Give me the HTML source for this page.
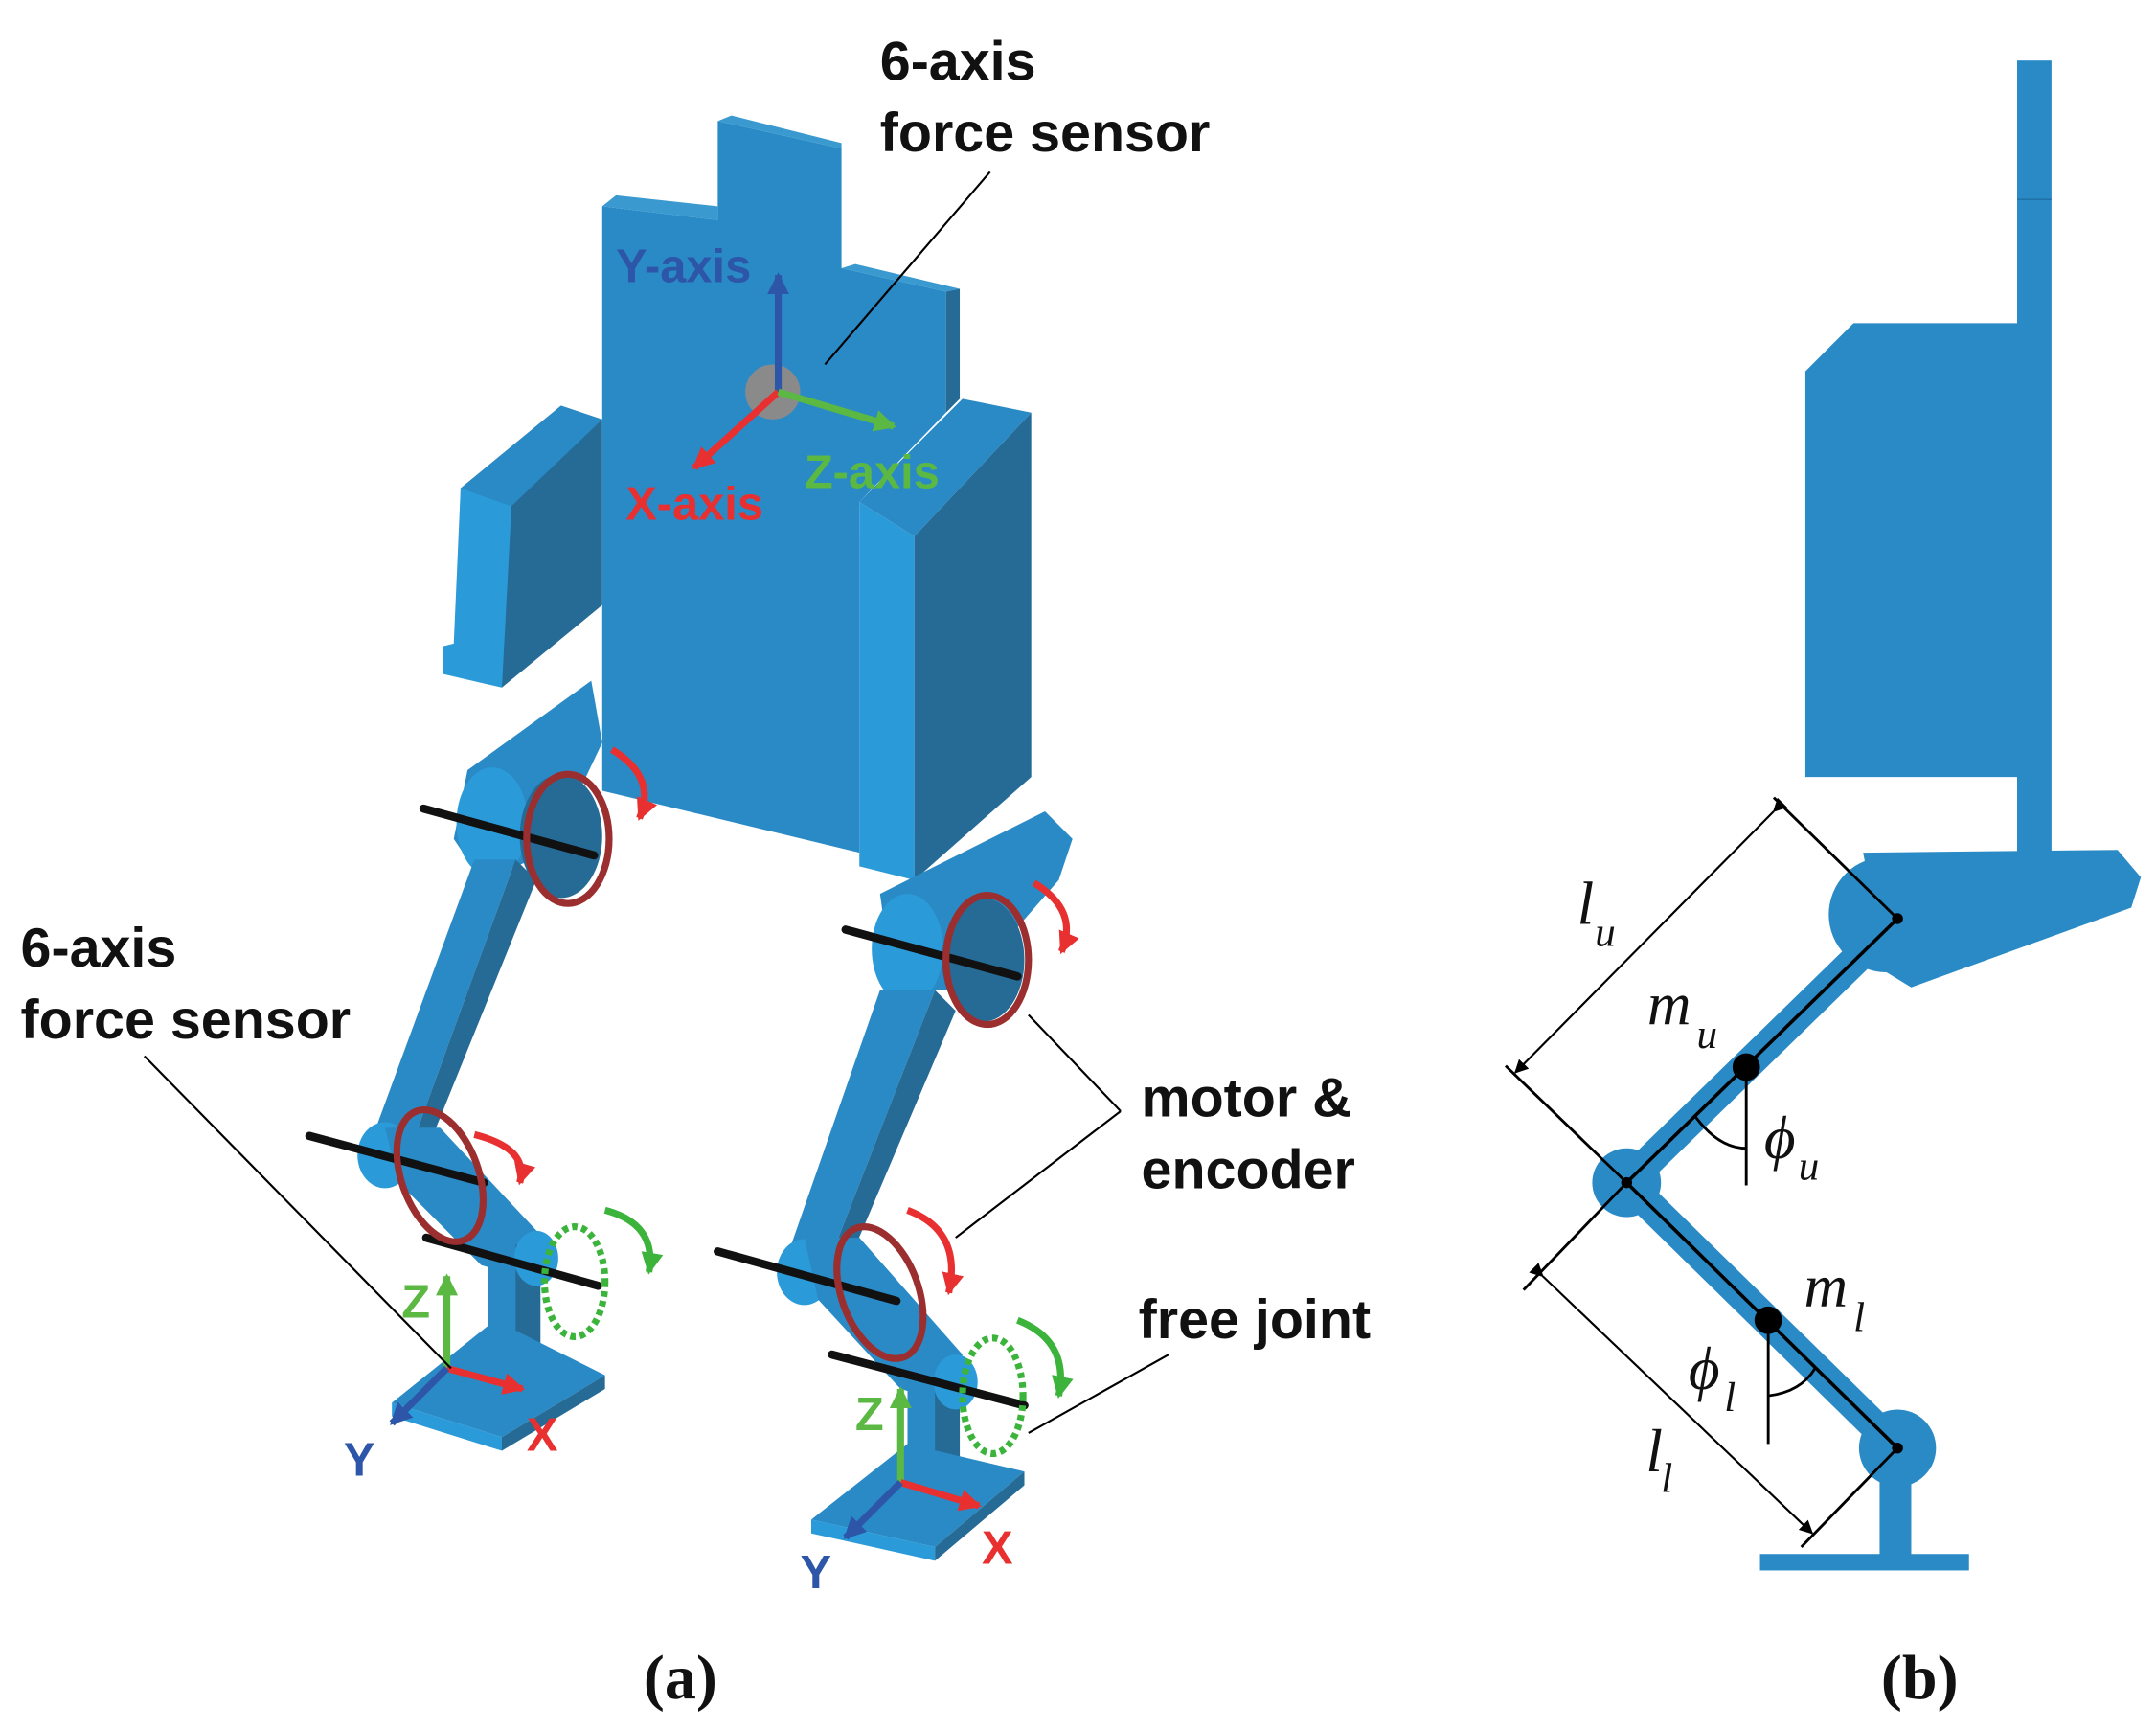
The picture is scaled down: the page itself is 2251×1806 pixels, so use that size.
<!DOCTYPE html>
<html><head><meta charset="utf-8"><style>
html,body{margin:0;padding:0;background:#fff;}
svg{display:block;}
.s{font-family:"Liberation Sans",sans-serif;font-weight:bold;}
.m{font-family:"Liberation Serif",serif;font-style:italic;}
</style></head><body>
<svg width="2251" height="1806" viewBox="0 0 1568 1258" xmlns="http://www.w3.org/2000/svg">
<defs>
<marker id="ah" markerWidth="10" markerHeight="10" refX="9" refY="5" orient="auto" markerUnits="userSpaceOnUse"><path d="M0,0 L10,5 L0,10 z" fill="#000"/></marker>
<marker id="ab" markerWidth="16" markerHeight="16" refX="14" refY="8" orient="auto" markerUnits="userSpaceOnUse"><path d="M0,0 L16,8 L0,16 z" fill="context-stroke"/></marker>
</defs>
<polygon points="335,355 408,295 438,305 438,440 365,500 335,490" fill="#266a96"/>
<polygon points="335,355 408,295 438,305 372,368" fill="#2a8ac6"/>
<polygon points="335,355 372,368 365,500 322,490 322,470 330,468" fill="#2a9ad8"/>
<polygon points="438,150 522,160 522,88 612,108 612,195 688,212 688,300 625,365 625,620 438,575" fill="#2a8ac6"/>
<polygon points="438,150 522,160 522,150 448,142" fill="#3a9ad0"/>
<polygon points="522,88 532,84 612,104 612,108" fill="#3a9ad0"/>
<polygon points="612,195 622,192 698,210 688,212" fill="#3a9ad0"/>
<polygon points="688,212 698,210 698,290 688,300" fill="#266a96"/>
<polygon points="665,390 750,300 750,565 665,640" fill="#266a96"/>
<polygon points="625,365 700,290 750,300 665,390" fill="#2a8ac6"/>
<polygon points="625,365 665,390 665,640 625,630" fill="#2a9ad8"/>
<circle cx="562" cy="285" r="20" fill="#8a8a8a"/>
<polygon points="340,560 430,495 438,540 400,620 350,640 330,610" fill="#2a8ac6"/>
<ellipse cx="358" cy="598" rx="26" ry="40" fill="#2a9ad8"/>
<ellipse cx="408" cy="608" rx="30" ry="45" fill="#266a96"/>
<polygon points="345,625 375,625 295,845 268,835" fill="#2a8ac6"/>
<polygon points="375,625 390,640 305,850 295,845" fill="#266a96"/>
<ellipse cx="280" cy="840" rx="20" ry="24" fill="#2a9ad8"/>
<polygon points="280,820 320,820 395,900 385,930 350,920 290,860" fill="#2a8ac6"/>
<rect x="355" y="905" width="38" height="85" fill="#2a8ac6"/>
<rect x="375" y="905" width="18" height="85" fill="#266a96"/>
<ellipse cx="390" cy="915" rx="16" ry="20" fill="#2a9ad8"/>
<polygon points="285,1020 360,960 440,1000 365,1045" fill="#2a8ac6"/>
<polygon points="285,1020 365,1045 365,1055 285,1030" fill="#2a9ad8"/>
<polygon points="365,1045 440,1000 440,1010 365,1055" fill="#266a96"/>
<polygon points="640,650 760,590 780,610 770,640 700,720 650,720" fill="#2a8ac6"/>
<ellipse cx="660" cy="690" rx="26" ry="40" fill="#2a9ad8"/>
<ellipse cx="715" cy="698" rx="30" ry="45" fill="#266a96"/>
<polygon points="640,720 680,720 600,925 572,915" fill="#2a8ac6"/>
<polygon points="680,720 695,735 612,930 600,925" fill="#266a96"/>
<ellipse cx="585" cy="925" rx="20" ry="24" fill="#2a9ad8"/>
<polygon points="585,900 625,900 700,985 690,1020 655,1010 595,945" fill="#2a8ac6"/>
<rect x="660" y="1000" width="38" height="85" fill="#2a8ac6"/>
<rect x="680" y="1000" width="18" height="85" fill="#266a96"/>
<ellipse cx="695" cy="1005" rx="16" ry="20" fill="#2a9ad8"/>
<polygon points="590,1105 660,1050 745,1070 680,1125" fill="#2a8ac6"/>
<polygon points="590,1105 680,1125 680,1135 590,1115" fill="#2a9ad8"/>
<polygon points="680,1125 745,1070 745,1080 680,1135" fill="#266a96"/>
<g stroke="#111" stroke-width="6" stroke-linecap="round">
<line x1="308" y1="588" x2="432" y2="622"/>
<line x1="615" y1="676" x2="740" y2="710"/>
<line x1="225" y1="826" x2="352" y2="860"/>
<line x1="310" y1="900" x2="435" y2="935"/>
<line x1="522" y1="910" x2="652" y2="946"/>
<line x1="605" y1="985" x2="745" y2="1022"/>
</g>
<g fill="none" stroke="#9b2f2f" stroke-width="5">
<ellipse cx="413" cy="610" rx="30" ry="47"/>
<ellipse cx="718" cy="698" rx="30" ry="47"/>
<ellipse cx="320" cy="855" rx="28" ry="50" transform="rotate(-20 320 855)"/>
<ellipse cx="640" cy="940" rx="28" ry="50" transform="rotate(-20 640 940)"/>
</g>
<g fill="none" stroke="#3cb43c" stroke-width="5" stroke-dasharray="4,3">
<ellipse cx="418" cy="932" rx="22" ry="40"/>
<ellipse cx="722" cy="1015" rx="22" ry="42"/>
</g>
<g fill="none" stroke-width="5">
<path d="M445,545 Q478,565 465,595" stroke="#e83030" marker-end="url(#ab)"/>
<path d="M752,642 Q785,662 772,692" stroke="#e83030" marker-end="url(#ab)"/>
<path d="M345,825 Q385,835 378,860" stroke="#e83030" marker-end="url(#ab)"/>
<path d="M660,880 Q700,895 690,940" stroke="#e83030" marker-end="url(#ab)"/>
<path d="M440,880 Q478,890 472,925" stroke="#3cb43c" marker-end="url(#ab)"/>
<path d="M740,960 Q778,975 770,1015" stroke="#3cb43c" marker-end="url(#ab)"/>
</g>
<g stroke-width="5" fill="none">
<line x1="566" y1="285" x2="566" y2="200" stroke="#2d55a8" marker-end="url(#ab)"/>
<line x1="566" y1="285" x2="505" y2="340" stroke="#e83030" marker-end="url(#ab)"/>
<line x1="566" y1="285" x2="650" y2="310" stroke="#5ab843" marker-end="url(#ab)"/>
<line x1="325" y1="995" x2="325" y2="928" stroke="#5ab843" marker-end="url(#ab)"/>
<line x1="325" y1="995" x2="380" y2="1010" stroke="#e83030" marker-end="url(#ab)"/>
<line x1="325" y1="995" x2="285" y2="1035" stroke="#2d55a8" marker-end="url(#ab)"/>
<line x1="655" y1="1078" x2="655" y2="1010" stroke="#5ab843" marker-end="url(#ab)"/>
<line x1="655" y1="1078" x2="712" y2="1095" stroke="#e83030" marker-end="url(#ab)"/>
<line x1="655" y1="1078" x2="615" y2="1118" stroke="#2d55a8" marker-end="url(#ab)"/>
</g>
<g stroke="#000" stroke-width="1.5">
<line x1="600" y1="265" x2="720" y2="125"/>
<line x1="105" y1="768" x2="328" y2="995"/>
<line x1="748" y1="738" x2="815" y2="808"/>
<line x1="695" y1="900" x2="815" y2="808"/>
<line x1="748" y1="1042" x2="850" y2="985"/>
</g>
<g class="s" font-size="40" fill="#111">
<text x="640" y="58">6-axis</text>
<text x="640" y="110">force sensor</text>
<text x="15" y="703">6-axis</text>
<text x="15" y="755">force sensor</text>
<text x="830" y="812">motor &amp;</text>
<text x="830" y="864">encoder</text>
<text x="828" y="973">free joint</text>
</g>
<g class="s" font-size="34">
<text x="448" y="205" fill="#2d55a8">Y-axis</text>
<text x="455" y="378" fill="#e83030">X-axis</text>
<text x="585" y="355" fill="#5ab843">Z-axis</text>
<text x="292" y="958" fill="#5ab843">Z</text>
<text x="383" y="1055" fill="#e83030">X</text>
<text x="250" y="1073" fill="#2d55a8">Y</text>
<text x="622" y="1040" fill="#5ab843">Z</text>
<text x="714" y="1137" fill="#e83030">X</text>
<text x="582" y="1155" fill="#2d55a8">Y</text>
</g>
<text x="468" y="1235" font-family="Liberation Serif,serif" font-weight="bold" font-size="46" fill="#111">(a)</text>
<rect x="1467" y="44" width="25" height="576" fill="#2a8ac6"/>
<line x1="1467" y1="145" x2="1492" y2="145" stroke="#1f6fa3" stroke-width="1"/>
<polygon points="1348,235 1470,235 1470,565 1313,565 1313,270" fill="#2a8ac6"/>
<circle cx="1372" cy="665" r="42" fill="#2a8ac6"/>
<polygon points="1355,620 1540,618 1557,638 1550,660 1390,718 1372,707" fill="#2a8ac6"/>
<g stroke="#2a8ac6" stroke-width="22" stroke-linecap="round">
<line x1="1380" y1="668" x2="1183" y2="860"/>
<line x1="1183" y1="860" x2="1380" y2="1053"/>
</g>
<circle cx="1183" cy="860" r="25" fill="#2a8ac6"/>
<circle cx="1380" cy="1053" r="28" fill="#2a8ac6"/>
<rect x="1367" y="1055" width="23" height="77" fill="#2a8ac6"/>
<rect x="1280" y="1130" width="152" height="12" fill="#2a8ac6"/>
<g stroke="#000" stroke-width="2.5">
<line x1="1380" y1="668" x2="1183" y2="860"/>
<line x1="1183" y1="860" x2="1380" y2="1053"/>
</g>
<g fill="#000">
<circle cx="1380" cy="668" r="4"/><circle cx="1183" cy="860" r="4"/><circle cx="1380" cy="1053" r="4"/>
<circle cx="1270" cy="776" r="10"/><circle cx="1286" cy="960" r="10"/>
</g>
<g stroke="#000" stroke-width="2" fill="none">
<line x1="1270" y1="776" x2="1270" y2="862"/>
<line x1="1286" y1="960" x2="1286" y2="1050"/>
<path d="M1233,812 Q1250,835 1270,835"/>
<path d="M1286,1015 Q1310,1012 1320,995"/>
<line x1="1380" y1="668" x2="1290" y2="580"/>
<line x1="1183" y1="860" x2="1095" y2="775"/>
<line x1="1183" y1="860" x2="1108" y2="938"/>
<line x1="1380" y1="1053" x2="1310" y2="1125"/>
<line x1="1290" y1="590" x2="1102" y2="780" marker-start="url(#ah)" marker-end="url(#ah)" stroke-width="1.5"/>
<line x1="1122" y1="928" x2="1318" y2="1115" marker-start="url(#ah)" marker-end="url(#ah)" stroke-width="1.5"/>
</g>
<g class="m" font-size="44" fill="#111">
<text x="1147" y="672">l</text><text x="1160" y="688" font-size="30">u</text>
<text x="1198" y="745">m</text><text x="1234" y="762" font-size="30">u</text>
<text x="1283" y="842">ϕ</text><text x="1308" y="858" font-size="30">u</text>
<text x="1312" y="950">m</text><text x="1348" y="968" font-size="30">l</text>
<text x="1228" y="1010">ϕ</text><text x="1254" y="1026" font-size="30">l</text>
<text x="1197" y="1070">l</text><text x="1208" y="1085" font-size="30">l</text>
</g>
<text x="1368" y="1235" font-family="Liberation Serif,serif" font-weight="bold" font-size="46" fill="#111">(b)</text>
</svg>
</body></html>
